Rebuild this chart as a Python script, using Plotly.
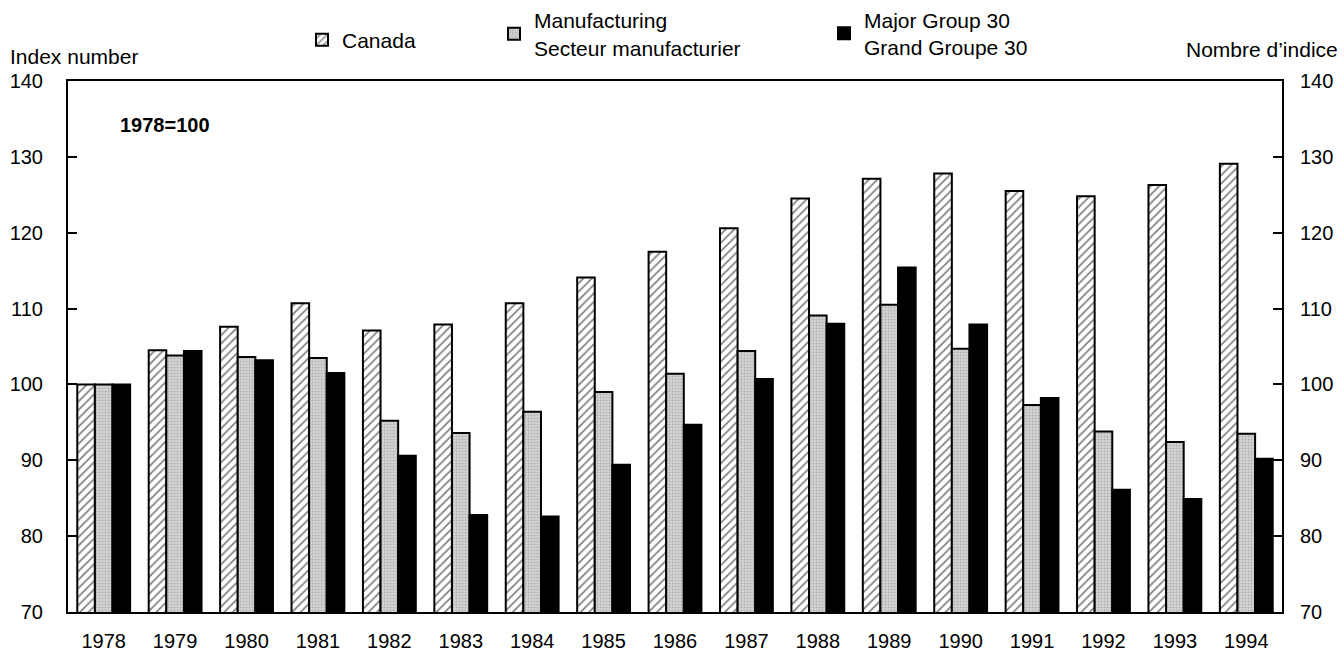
import plotly.graph_objects as go

years = [str(y) for y in range(1978, 1995)]

canada = [100, 104.5, 107.6, 110.7, 107.1, 107.9, 110.7, 114.1, 117.5,
          120.6, 124.5, 127.1, 127.8, 125.5, 124.8, 126.3, 129.1]
manufacturing = [100, 103.8, 103.6, 103.5, 95.2, 93.6, 96.4, 99.0, 101.4,
                 104.4, 109.1, 110.5, 104.7, 97.3, 93.8, 92.4, 93.5]
major_group_30 = [100, 104.4, 103.2, 101.5, 90.6, 82.8, 82.6, 89.4, 94.7,
                  100.7, 108.0, 115.4, 107.9, 98.2, 86.1, 84.9, 90.2]

y_ticks = [70, 80, 90, 100, 110, 120, 130, 140]

FONT = "Liberation Sans, Arial, sans-serif"
FS = 20   # tick labels
TS = 21   # titles / legend

fig = go.Figure()

fig.add_trace(go.Bar(
    x=years, y=canada, name="Canada", legend="legend",
    marker=dict(color="white", line=dict(color="black", width=2),
                pattern=dict(shape="/", fgcolor="black", bgcolor="white",
                             size=6, solidity=0.28)),
))
fig.add_trace(go.Bar(
    x=years, y=manufacturing, name="Manufacturing<br>Secteur manufacturier",
    legend="legend2",
    marker=dict(color="#d2d2d2", line=dict(color="black", width=2),
                pattern=dict(shape=".", fgcolor="#8c8c8c", bgcolor="#d4d4d4",
                             size=3, solidity=0.35)),
))
fig.add_trace(go.Bar(
    x=years, y=major_group_30, name="Major Group 30<br>Grand Groupe 30",
    legend="legend3",
    marker=dict(color="black", line=dict(color="black", width=2)),
))

# invisible trace so the right-hand axis is drawn
fig.add_trace(go.Scatter(x=[years[0]], y=[100], yaxis="y2", mode="markers",
                         marker=dict(opacity=0), showlegend=False,
                         hoverinfo="skip"))

legend_style = dict(orientation="h", xref="container", yref="container",
                    xanchor="left", yanchor="middle", valign="middle",
                    bgcolor="rgba(0,0,0,0)",
                    font=dict(family=FONT, size=TS, color="black"))

axis_common = dict(range=[70, 140], tickvals=y_ticks, showgrid=False,
                   zeroline=False, showline=True, linecolor="black",
                   linewidth=2, ticks="inside", ticklen=9, tickwidth=2,
                   tickcolor="black", automargin=False,
                   tickfont=dict(size=FS))

fig.update_layout(
    width=1344, height=652,
    margin=dict(l=68, r=62, t=81, b=40),
    paper_bgcolor="white", plot_bgcolor="white",
    font=dict(family=FONT, size=FS, color="black"),
    barmode="group", bargap=0.26, bargroupgap=0,
    legend=dict(x=302 / 1344, y=1 - 40 / 652, **legend_style),
    legend2=dict(x=494 / 1344, y=1 - 34 / 652, **legend_style),
    legend3=dict(x=824 / 1344, y=1 - 33.5 / 652, **legend_style),
    xaxis=dict(range=[-0.5, len(years) - 0.5], showline=True,
               linecolor="black", linewidth=2, mirror=True, ticks="",
               showgrid=False, ticklabelstandoff=10, automargin=False,
               tickfont=dict(size=FS)),
    yaxis=dict(ticklabelstandoff=19, **axis_common),
    yaxis2=dict(overlaying="y", side="right", ticklabelstandoff=12,
                **axis_common),
    annotations=[
        dict(text="Index number", xref="paper", yref="paper",
             x=-60 / 1214, y=1 + 11 / 531, xanchor="left", yanchor="bottom",
             showarrow=False, font=dict(size=TS)),
        dict(text="Nombre d\u2019indice", xref="paper", yref="paper",
             x=1 + 58 / 1214, y=1 + 18 / 531, xanchor="right",
             yanchor="bottom", showarrow=False, font=dict(size=TS)),
        dict(text="<b>1978=100</b>", xref="paper", yref="paper",
             x=50 / 1214, y=1 - 44 / 531, xanchor="left", yanchor="middle",
             showarrow=False, font=dict(size=FS)),
    ],
)

# drop the page's default body margin so the 1344x652 figure fills the window
fig.write_html("out.html", config={"displayModeBar": False},
               post_script="document.body.style.margin='0';")
